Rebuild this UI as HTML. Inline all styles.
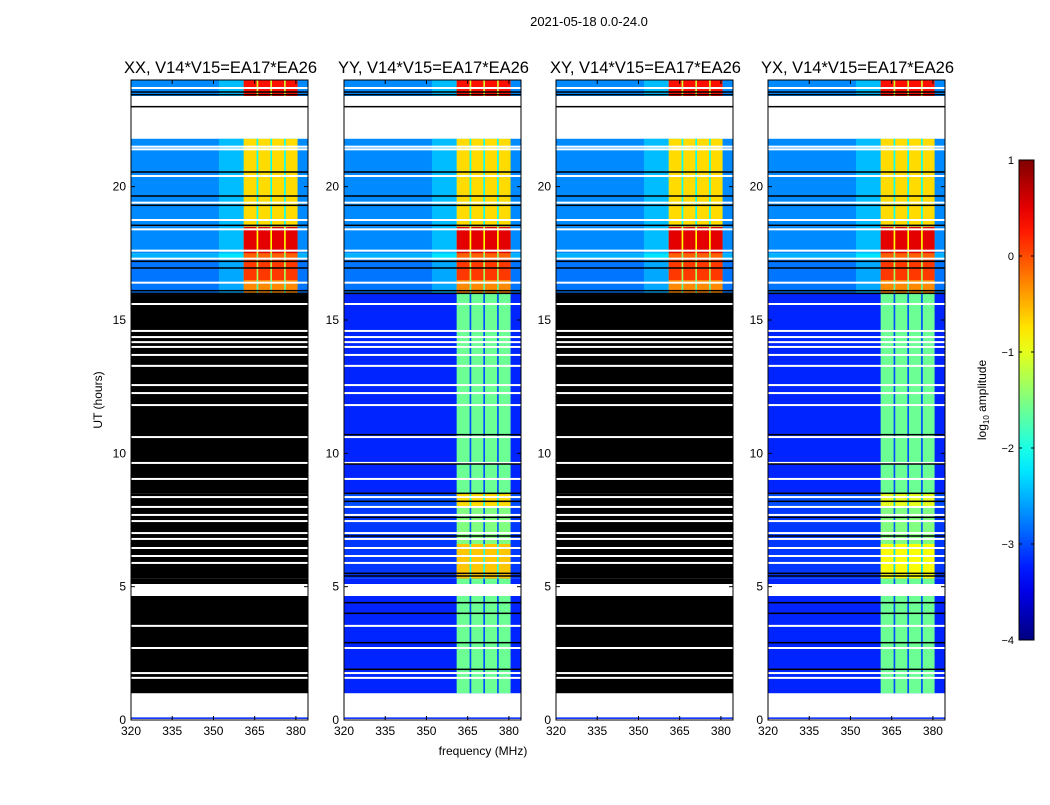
<!DOCTYPE html>
<html><head><meta charset="utf-8">
<style>
body{margin:0;background:#fff;width:1050px;height:800px;overflow:hidden;font-family:"Liberation Sans",sans-serif;}
svg text{font-family:"Liberation Sans",sans-serif;}
</style></head>
<body>
<svg id="fig" width="1050" height="800" xmlns="http://www.w3.org/2000/svg">
<text x="589" y="26" font-size="13" text-anchor="middle">2021-05-18 0.0-24.0</text>
<text x="483" y="755" font-size="12" text-anchor="middle">frequency (MHz)</text>
<text transform="translate(102,400) rotate(-90)" font-size="12" text-anchor="middle">UT (hours)</text>
<text transform="translate(986,400) rotate(-90)" font-size="12" text-anchor="middle">log<tspan font-size="8" dy="3">10</tspan><tspan dy="-3"> amplitude</tspan></text>
</svg>
<script>
// ---- data ----
const panelTitles = ["XX, V14*V15=EA17*EA26","YY, V14*V15=EA17*EA26","XY, V14*V15=EA17*EA26","YX, V14*V15=EA17*EA26"];
const panelBlackLower = [true,false,true,false];
const segStart = [1.0, 5.3, 6.6, 8.0, 8.5, 16.0, 16.5, 17.3, 17.5, 18.5, 23.4];
const segEnd   = [5.3, 6.6, 8.0, 8.5, 16.0, 16.5, 17.3, 17.5, 18.5, 21.8, 24.0];
const segBg    = [-3.2,-3.1,-3.1,-3.0,-3.2,-2.8,-2.8,-2.5,-2.7,-2.7,-2.7];
const bandYY   = [-1.6,-0.6,-1.5,-0.7,-1.6,-0.3, 0.1,-0.1, 0.5,-0.7, 0.3];
const bandYX   = [-1.6,-0.9,-1.5,-1.0,-1.6,-0.3, 0.1,-0.1, 0.5,-0.7, 0.3];
const colStart = [361.0, 366.3, 371.3, 376.3];
const colEnd   = [365.7, 370.7, 375.7, 380.6];
const stripeDrop = 1.4;
const whiteLines = [23.7,21.5,21.4,20.4,19.4,18.75,18.4,17.6,17.3,16.4,15.6,14.59,14.36,14.17,13.99,13.69,13.28,12.56,12.26,11.81,10.61,9.64,9.04,8.36,7.99,7.69,7.46,7.01,6.79,6.45,6.15,5.89,3.53,2.7,1.76,1.58];
const whiteBands = [[0.0,1.0],[21.8,23.4],[4.65,5.1]];
const blackLines = [23.55,23.45,23.0,20.55,19.65,19.3,18.55,17.2,16.95,16.1,16.0,10.7,9.6,8.5,8.2,7.6,6.9,5.5,5.4,4.4,4.0,2.9,1.9];
const xTicks = [320,335,350,365,380];
const yTicks = [0,5,10,15,20];
const cbTicks = [1,0,-1,-2,-3,-4];
const cbLabels = ["1","0","\u22121","\u22122","\u22123","\u22124"];

const NS="http://www.w3.org/2000/svg";
const svg=document.getElementById('fig');
function mk(tag,attrs,parent){const e=document.createElementNS(NS,tag);for(const k in attrs)e.setAttribute(k,attrs[k]);(parent||svg).appendChild(e);return e;}
function jet(v){let t=(v+4)/5;t=Math.max(0,Math.min(1,t));const c=x=>Math.round(255*Math.max(0,Math.min(1,1.5-Math.abs(x))));return `rgb(${c(4*t-3)},${c(4*t-2)},${c(4*t-1)})`;}
const panelX=[131,344,556,768], PW=177, pTop=80, pBot=720, fMin=320, fMax=384.4;
const yS=h=>pBot-(h/24)*(pBot-pTop);

panelX.forEach((px,p)=>{
  const xS=f=>px+(f-fMin)/(fMax-fMin)*PW;
  const g=mk('g',{});
  
  
  mk('rect',{x:px,y:pTop,width:PW,height:pBot-pTop,fill:'#fff'},g);
  const band = (p===3)?bandYX:bandYY;
  segStart.forEach((s,i)=>{
    const e=segEnd[i], y1=yS(e), y2=yS(s);
    if(panelBlackLower[p] && s<16){
      const r=mk('rect',{x:px,y:y1,width:PW,height:y2-y1,fill:'#000'},g);
      
      return;
    }
    const bg=mk('rect',{x:px,y:y1,width:PW,height:y2-y1,fill:jet(segBg[i])},g);
    
    if(s>=16){const tr=mk('rect',{x:xS(352),y:y1,width:xS(361)-xS(352),height:y2-y1,fill:jet(segBg[i]+0.25)},g);
      }
    const sr=mk('rect',{x:xS(colStart[0]),y:y1,width:xS(colEnd[3])-xS(colStart[0]),height:y2-y1,fill:jet(band[i]-stripeDrop)},g);
    
    colStart.forEach((c,j)=>{
      const r=mk('rect',{x:xS(c),y:y1,width:xS(colEnd[j])-xS(c),height:y2-y1,fill:jet(band[i])},g);
      
    });
  });
  whiteBands.forEach(b=>{const r=mk('rect',{x:px,y:yS(b[1]),width:PW,height:yS(b[0])-yS(b[1]),fill:'#fff'},g);
    });
  mk('rect',{x:px,y:yS(0.06)-1,width:PW,height:1.5,fill:jet(-3.2)},g);
  whiteLines.forEach(h=>{const r=mk('rect',{x:px,y:yS(h)-1,width:PW,height:2,fill:'#fff'},g);
    });
  blackLines.forEach(h=>{if(panelBlackLower[p]&&h<16)return;const r=mk('rect',{x:px,y:yS(h)-0.75,width:PW,height:1.5,fill:'#000'},g);
    });
  mk('rect',{x:px,y:pTop,width:PW,height:pBot-pTop,fill:'none',stroke:'#000','stroke-width':1},g);
  const t=mk('text',{x:px+PW/2+1,y:73,'font-size':16.5,'text-anchor':'middle'});t.textContent=panelTitles[p];
  
  xTicks.forEach(v=>{const x=xS(v);
    mk('line',{x1:x,x2:x,y1:pBot,y2:pBot-4,stroke:'#000'});mk('line',{x1:x,x2:x,y1:pTop,y2:pTop+4,stroke:'#000'});
    const l=mk('text',{x:x,y:pBot+15,'font-size':12,'text-anchor':'middle'});l.textContent=v;
    });
  yTicks.forEach(v=>{const y=yS(v);
    mk('line',{x1:px,x2:px+4,y1:y,y2:y,stroke:'#000'});mk('line',{x1:px+PW,x2:px+PW-4,y1:y,y2:y,stroke:'#000'});
    const l=mk('text',{x:px-5,y:y+4,'font-size':12,'text-anchor':'end'});l.textContent=v;
    });
});

const cbX=1019,cbW=15,cbT=160,cbB=640;
const cg=mk('g',{});

const defs=mk('defs',{});const lg=mk('linearGradient',{id:'jetg',x1:0,y1:1,x2:0,y2:0},defs);
for(let k=0;k<=20;k++){mk('stop',{offset:k/20,'stop-color':jet(-4+5*k/20)},lg);}
mk('rect',{x:cbX,y:cbT,width:cbW,height:cbB-cbT,fill:'url(#jetg)',stroke:'#000'},cg);
cbTicks.forEach((v,i)=>{const y=cbB-(v+4)/5*(cbB-cbT);
  mk('line',{x1:cbX,x2:cbX+3,y1:y,y2:y,stroke:'#000'},cg);mk('line',{x1:cbX+cbW,x2:cbX+cbW-3,y1:y,y2:y,stroke:'#000'},cg);
  const l=mk('text',{x:cbX-5,y:y+4,'font-size':11,'text-anchor':'end'},cg);l.textContent=cbLabels[i];
  });
</script>
</body></html>
